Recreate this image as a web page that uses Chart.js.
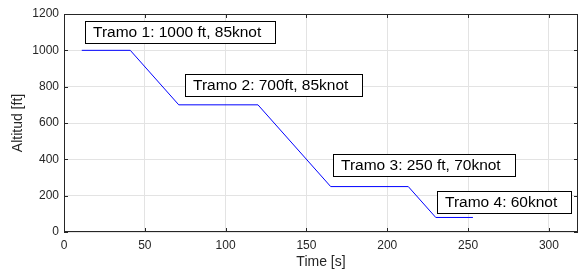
<!DOCTYPE html>
<html>
<head>
<meta charset="utf-8">
<script src="https://cdn.jsdelivr.net/npm/chart.js@4"></script>
<style>
  html, body { margin: 0; padding: 0; background: #fff; }
  canvas { display: block; }
</style>
</head>
<body>
<canvas id="chart" width="579" height="272"></canvas>
<script>
// Flight profile (time in s, altitude in ft)
const timeS = [11, 41, 71, 120, 165, 213, 230, 253];
const altitudeFt = [1000, 1000, 700, 700, 250, 250, 80, 80];

// Axis ticks
const xTicks = [0, 50, 100, 150, 200, 250, 300];
const yTicks = [0, 200, 400, 600, 800, 1000, 1200];

// Text boxes (left edge x, centre y, in data units)
const noteText = ['Tramo 1: 1000 ft, 85knot', 'Tramo 2: 700ft, 85knot', 'Tramo 3: 250 ft, 70knot', 'Tramo 4: 60knot'];
const noteX = [13, 75, 166.7, 231];
const noteY = [1100, 808, 369, 167];

const FONT = '"Liberation Sans", Arial, Helvetica, sans-serif';
const AXIS_COLOR = '#262626';

// Draw box round the axes, inward ticks and text boxes
const matlabAxes = {
    id: 'matlabAxes',
    afterDraw(chart) {
        const ctx = chart.ctx;
        const a = chart.chartArea;
        const xs = chart.scales.x;
        const ys = chart.scales.y;
        ctx.save();
        ctx.strokeStyle = AXIS_COLOR;
        ctx.lineWidth = 1;
        ctx.strokeRect(a.left + 0.5, a.top + 0.5, a.right - a.left - 1, a.bottom - a.top - 1);

        const tl = 4;
        ctx.beginPath();
        xs.ticks.forEach(t => {
            const px = Math.round(xs.getPixelForValue(t.value)) + 0.5;
            ctx.moveTo(px, a.bottom); ctx.lineTo(px, a.bottom - tl);
            ctx.moveTo(px, a.top); ctx.lineTo(px, a.top + tl);
        });
        ys.ticks.forEach(t => {
            const py = Math.round(ys.getPixelForValue(t.value)) + 0.5;
            ctx.moveTo(a.left, py); ctx.lineTo(a.left + tl, py);
            ctx.moveTo(a.right, py); ctx.lineTo(a.right - tl, py);
        });
        ctx.stroke();

        // text boxes
        ctx.font = '15.5px ' + FONT;
        ctx.textBaseline = 'middle';
        ctx.textAlign = 'left';
        noteText.forEach((txt, i) => {
            const left = Math.round(xs.getPixelForValue(noteX[i]));
            const cy = Math.round(ys.getPixelForValue(noteY[i]));
            const w = Math.round(ctx.measureText(txt).width) + 22;
            const h = 22;
            ctx.fillStyle = '#fff';
            ctx.fillRect(left, cy - h / 2, w, h);
            ctx.strokeStyle = '#000';
            ctx.strokeRect(left + 0.5, cy - h / 2 + 0.5, w, h);
            ctx.fillStyle = '#000';
            ctx.fillText(txt, left + 8, cy + 1);
        });
        ctx.restore();
    }
};

new Chart(document.getElementById('chart'), {
    type: 'line',
    data: {
        datasets: [{
            data: timeS.map((t, i) => ({ x: t, y: altitudeFt[i] })),
            borderColor: '#0000ff',
            borderWidth: 1,
            pointRadius: 0,
            fill: false,
            tension: 0
        }]
    },
    options: {
        responsive: false,
        animation: false,
        layout: { padding: { top: 14, right: 1, left: 0, bottom: 0 } },
        plugins: {
            legend: { display: false },
            tooltip: { enabled: false }
        },
        scales: {
            x: {
                type: 'linear',
                min: 0,
                max: 318,
                afterBuildTicks: s => { s.ticks = xTicks.map(v => ({ value: v })); },
                afterFit: s => { s.height = 40; },
                grid: { color: '#e3e3e3', drawTicks: false },
                border: { display: false },
                ticks: { color: AXIS_COLOR, font: { family: FONT, size: 12 }, padding: 6, maxRotation: 0, callback: v => String(v) },
                title: { display: true, text: 'Time [s]', color: AXIS_COLOR, font: { family: FONT, size: 14 }, padding: { top: 0, bottom: 1 } }
            },
            y: {
                min: 0,
                max: 1200,
                afterBuildTicks: s => { s.ticks = yTicks.map(v => ({ value: v })); },
                afterFit: s => { s.width = 64; },
                grid: { color: '#e3e3e3', drawTicks: false },
                border: { display: false },
                ticks: { color: AXIS_COLOR, font: { family: FONT, size: 12 }, padding: 5, callback: v => String(v) },
                title: { display: true, text: 'Altitud [ft]', color: AXIS_COLOR, font: { family: FONT, size: 14 }, padding: { top: 10, bottom: 4 } }
            }
        }
    },
    plugins: [matlabAxes]
});
</script>
</body>
</html>
